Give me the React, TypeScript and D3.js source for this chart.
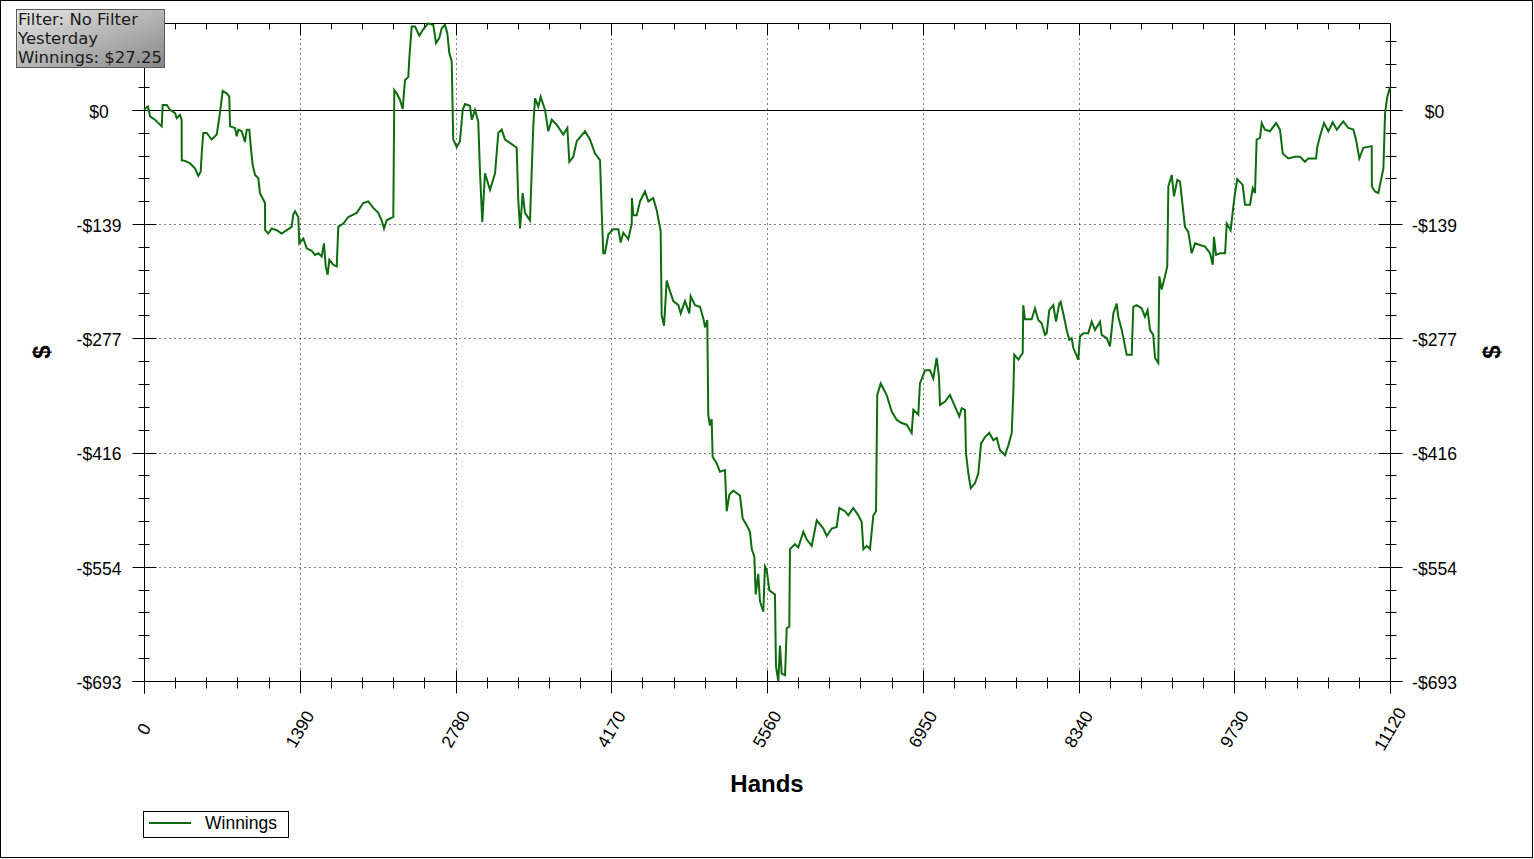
import React from 'react';
import * as d3 from 'd3';

const xTicks = [0, 1390, 2780, 4170, 5560, 6950, 8340, 9730, 11120];
const xMinorStep = 278;
const yTicks = [0, -138.6, -277.2, -415.8, -554.4, -693];
const yTickLabels = ['$0', '-$139', '-$277', '-$416', '-$554', '-$693'];
const yMinorStep = 27.72;
const xDomain = [0, 11120];
const yDomain = [-693, 106];
const filterLines = ['Filter: No Filter', 'Yesterday', 'Winnings: $27.25'];
const seriesName = 'Winnings';
const xTitle = 'Hands';
const yTitle = '$';

// [hand, cumulative winnings $]
const winnings: [number, number][] = [
  [0, 0], [24, 3], [36, 4], [54, -8], [98, -12], [158, -20], [167, 6], [203, 6], [232, 0], [277, -4],
  [292, -10], [321, -6], [336, -12], [337, -61], [366, -62], [411, -65], [455, -71], [485, -80], [506, -75], [515, -53],
  [529, -28], [560, -28], [604, -36], [649, -30], [678, -4], [702, 23], [738, 20], [761, 16], [768, -20], [812, -22],
  [827, -32], [842, -24], [872, -26], [901, -39], [917, -24], [940, -24], [953, -45], [970, -67], [991, -79], [1020, -83],
  [1035, -101], [1065, -109], [1080, -113], [1081, -146], [1109, -150], [1140, -144], [1184, -146], [1229, -150], [1274, -146], [1318, -142],
  [1332, -127], [1348, -123], [1377, -130], [1386, -162], [1422, -156], [1452, -168], [1497, -171], [1526, -176], [1556, -174], [1586, -178],
  [1606, -162], [1622, -190], [1639, -200], [1654, -182], [1689, -188], [1720, -190], [1734, -142], [1779, -138], [1823, -130], [1868, -127],
  [1898, -125], [1957, -113], [2002, -111], [2046, -119], [2091, -125], [2121, -134], [2142, -144], [2166, -134], [2225, -130], [2234, 24],
  [2255, 20], [2285, 12], [2309, 1], [2329, 36], [2359, 40], [2368, 63], [2389, 101], [2419, 101], [2457, 90], [2493, 98],
  [2537, 105], [2582, 103], [2606, 81], [2635, 87], [2657, 99], [2686, 103], [2707, 93], [2725, 69], [2746, 59], [2760, -36],
  [2791, -45], [2820, -38], [2844, 0], [2865, 7], [2909, 5], [2925, -12], [2954, 0], [2983, -14], [2999, -77], [3019, -136],
  [3043, -77], [3088, -97], [3133, -77], [3162, -28], [3192, -24], [3222, -36], [3266, -40], [3326, -46], [3340, -109], [3356, -144],
  [3380, -101], [3400, -125], [3445, -134], [3474, -20], [3490, 14], [3519, 4], [3540, 16], [3579, 0], [3608, -26], [3639, -12],
  [3683, -18], [3742, -30], [3778, -22], [3796, -63], [3831, -57], [3862, -38], [3936, -26], [3980, -36], [4025, -53], [4070, -61],
  [4085, -124], [4099, -174], [4114, -174], [4144, -151], [4188, -145], [4233, -145], [4254, -161], [4278, -149], [4322, -157], [4353, -138],
  [4354, -107], [4367, -128], [4397, -128], [4427, -111], [4471, -99], [4501, -111], [4545, -107], [4576, -122], [4611, -147], [4620, -249],
  [4641, -262], [4665, -207], [4694, -220], [4724, -232], [4769, -237], [4790, -247], [4828, -232], [4867, -247], [4879, -226], [4917, -237],
  [4962, -239], [4992, -253], [5007, -264], [5027, -255], [5036, -370], [5051, -383], [5066, -375], [5075, -421], [5111, -429], [5140, -439],
  [5185, -437], [5200, -487], [5224, -467], [5259, -462], [5319, -468], [5343, -496], [5379, -504], [5408, -512], [5424, -533], [5447, -542],
  [5459, -588], [5482, -563], [5497, -596], [5527, -609], [5542, -554], [5557, -558], [5581, -583], [5631, -588], [5640, -675], [5661, -693],
  [5676, -650], [5691, -684], [5721, -686], [5736, -629], [5759, -627], [5765, -533], [5810, -527], [5839, -531], [5884, -512], [5914, -521],
  [5959, -529], [6004, -498], [6063, -508], [6093, -517], [6138, -508], [6182, -506], [6205, -483], [6256, -487], [6286, -492], [6330, -483],
  [6375, -492], [6405, -500], [6420, -533], [6450, -529], [6479, -533], [6509, -492], [6533, -487], [6544, -346], [6575, -332], [6628, -346],
  [6673, -366], [6717, -376], [6762, -380], [6807, -382], [6851, -392], [6866, -364], [6910, -370], [6925, -332], [6970, -316], [7015, -316],
  [7044, -326], [7074, -301], [7095, -324], [7104, -358], [7149, -354], [7193, -346], [7238, -360], [7276, -372], [7298, -362], [7327, -364],
  [7336, -417], [7357, -441], [7378, -459], [7416, -453], [7446, -441], [7470, -405], [7506, -397], [7544, -392], [7580, -401], [7610, -398],
  [7639, -413], [7684, -419], [7714, -407], [7744, -392], [7758, -344], [7767, -297], [7803, -303], [7842, -295], [7847, -237], [7862, -254],
  [7922, -254], [7952, -241], [7981, -255], [8011, -259], [8041, -273], [8056, -271], [8079, -243], [8115, -237], [8139, -257], [8169, -235],
  [8181, -233], [8204, -247], [8235, -267], [8258, -279], [8279, -277], [8294, -289], [8338, -303], [8353, -275], [8383, -271], [8427, -271],
  [8458, -257], [8487, -267], [8532, -257], [8547, -273], [8592, -277], [8621, -287], [8651, -247], [8681, -235], [8695, -251], [8726, -267],
  [8770, -297], [8815, -297], [8829, -239], [8859, -237], [8904, -241], [8933, -251], [8957, -243], [8978, -267], [9007, -273], [9023, -301],
  [9052, -307], [9061, -202], [9082, -218], [9112, -202], [9132, -190], [9142, -93], [9172, -79], [9192, -105], [9222, -85], [9246, -87],
  [9270, -117], [9290, -142], [9320, -148], [9350, -174], [9380, -162], [9424, -164], [9469, -166], [9514, -174], [9538, -188], [9549, -154],
  [9567, -176], [9603, -174], [9648, -174], [9663, -138], [9698, -146], [9722, -117], [9737, -101], [9757, -84], [9805, -91], [9826, -115],
  [9871, -115], [9895, -95], [9915, -101], [9930, -36], [9960, -34], [9975, -16], [10004, -24], [10049, -26], [10103, -16], [10138, -24],
  [10163, -53], [10212, -59], [10272, -57], [10317, -57], [10361, -63], [10391, -59], [10460, -59], [10471, -45], [10495, -32], [10531, -16],
  [10570, -26], [10609, -15], [10645, -24], [10703, -14], [10748, -22], [10793, -24], [10817, -36], [10846, -59], [10882, -46], [10957, -44],
  [10958, -93], [10986, -99], [11016, -101], [11037, -87], [11061, -71], [11076, -4], [11096, 16], [11120, 27.25],
];

const LINE_COLOR = '#0f6b0f';
const FONT = '"Liberation Sans", Arial, sans-serif';

export default function App() {
  const W = 1534;
  const H = 859;
  const left = 144;
  const right = 1390;
  const top = 22.5;
  const bottom = 681;

  const x = d3.scaleLinear().domain(xDomain).range([left, right]);
  const y = d3.scaleLinear().domain(yDomain).range([bottom, top]);
  const path = d3
    .line<[number, number]>()
    .x((d) => x(d[0]))
    .y((d) => y(d[1]))(winnings) || '';

  const crisp = (v: number) => Math.round(v) + 0.5;

  const xMinor = d3
    .range(0, xDomain[1] + 1, xMinorStep)
    .filter((_, i) => i % 5 !== 0);
  const yMinor = d3
    .range(0, 29)
    .filter((k) => k % 5 !== 0)
    .map((k) => yDomain[0] + k * yMinorStep)
    .filter((v) => v < yDomain[1]);

  const L = crisp(left);
  const R = crisp(right);
  const T = crisp(top);
  const B = crisp(bottom);

  return (
    <svg
      width={W}
      height={H}
      style={{ position: 'absolute', left: 0, top: 0, display: 'block', background: '#fff' }}
      fontFamily={FONT}
    >
      <defs>
        <linearGradient id="boxGrad" x1="0" y1="0" x2="1" y2="1">
          <stop offset="0%" stopColor="#e6e6e6" />
          <stop offset="100%" stopColor="#878787" />
        </linearGradient>
      </defs>
      <rect x={0.5} y={0.5} width={1532} height={857} fill="#fff" stroke="#000" />

      {/* grid */}
      {xTicks.slice(1, -1).map((t) => (
        <line key={'gx' + t} x1={crisp(x(t))} x2={crisp(x(t))} y1={T} y2={B} stroke="#000" strokeDasharray="1,4" />
      ))}
      {yTicks.slice(1, -1).map((t) => (
        <line key={'gy' + t} x1={L} x2={R} y1={crisp(y(t))} y2={crisp(y(t))} stroke="#000" strokeDasharray="1,4" />
      ))}

      {/* frame */}
      <line x1={L} x2={R} y1={T} y2={T} stroke="#000" />
      <line x1={L} x2={L} y1={T} y2={B + 12} stroke="#000" />
      <line x1={R} x2={R} y1={T} y2={B + 12} stroke="#000" />
      <line x1={L - 12} x2={R + 12} y1={B} y2={B} stroke="#000" />

      {/* zero line & y major ticks */}
      {yTicks.map((t) => (
        <g key={'yt' + t}>
          <line x1={L - 12} x2={L + 12} y1={crisp(y(t))} y2={crisp(y(t))} stroke="#000" />
          <line x1={R - 12} x2={R + 12} y1={crisp(y(t))} y2={crisp(y(t))} stroke="#000" />
        </g>
      ))}
      <line x1={L - 12} x2={R + 12} y1={crisp(y(0))} y2={crisp(y(0))} stroke="#000" />
      {yMinor.map((t) => (
        <g key={'ym' + t}>
          <line x1={L - 6} x2={L + 5} y1={crisp(y(t))} y2={crisp(y(t))} stroke="#000" />
          <line x1={R - 5} x2={R + 6} y1={crisp(y(t))} y2={crisp(y(t))} stroke="#000" />
        </g>
      ))}

      {/* x ticks */}
      {xTicks.map((t) => (
        <g key={'xt' + t}>
          <line x1={crisp(x(t))} x2={crisp(x(t))} y1={B - 11} y2={B + 12} stroke="#000" />
          <line x1={crisp(x(t))} x2={crisp(x(t))} y1={T} y2={T + 12} stroke="#000" />
        </g>
      ))}
      {xMinor.map((t) => (
        <g key={'xm' + t}>
          <line x1={crisp(x(t))} x2={crisp(x(t))} y1={B - 4} y2={B + 7} stroke="#000" />
          <line x1={crisp(x(t))} x2={crisp(x(t))} y1={T} y2={T + 6} stroke="#000" />
        </g>
      ))}

      {/* series */}
      <path d={path} fill="none" stroke={LINE_COLOR} strokeWidth={2} strokeLinejoin="miter" />

      {/* y labels */}
      {yTicks.map((t, i) => (
        <g key={'yl' + t} fontSize={17.5} fill="#000">
          <text x={99} y={y(t)} dy="0.45em" textAnchor="middle">{yTickLabels[i]}</text>
          <text x={1434.5} y={y(t)} dy="0.45em" textAnchor="middle">{yTickLabels[i]}</text>
        </g>
      ))}

      {/* x labels */}
      {xTicks.map((t) => (
        <text
          key={'xl' + t}
          transform={`translate(${x(t)},729) rotate(-60)`}
          textAnchor="middle"
          dy="0.35em"
          fontSize={17.5}
          fill="#000"
        >
          {t}
        </text>
      ))}

      {/* titles */}
      <text x={(left + right) / 2} y={792} textAnchor="middle" fontSize={24} fontWeight="bold">{xTitle}</text>
      <text transform="translate(42,352) rotate(-90)" textAnchor="middle" dy="0.35em" fontSize={24} fontWeight="bold">{yTitle}</text>
      <text transform="translate(1492,352) rotate(-90)" textAnchor="middle" dy="0.35em" fontSize={24} fontWeight="bold">{yTitle}</text>

      {/* filter box */}
      <rect x={16.5} y={9.5} width={148} height={58} fill="url(#boxGrad)" stroke="#5a5a5a" />
      {filterLines.map((s, i) => (
        <text key={s} x={18} y={25 + i * 19} fontFamily='"DejaVu Sans", Verdana, sans-serif' fontSize={16.5} fill="#1a1a1a">
          {s}
        </text>
      ))}

      {/* legend */}
      <rect x={143.5} y={811.5} width={145} height={26} fill="#fff" stroke="#000" />
      <line x1={149} x2={191} y1={823} y2={823} stroke={LINE_COLOR} strokeWidth={2} />
      <text x={205} y={829} fontSize={17.5} fill="#000">{seriesName}</text>
    </svg>
  );
}
